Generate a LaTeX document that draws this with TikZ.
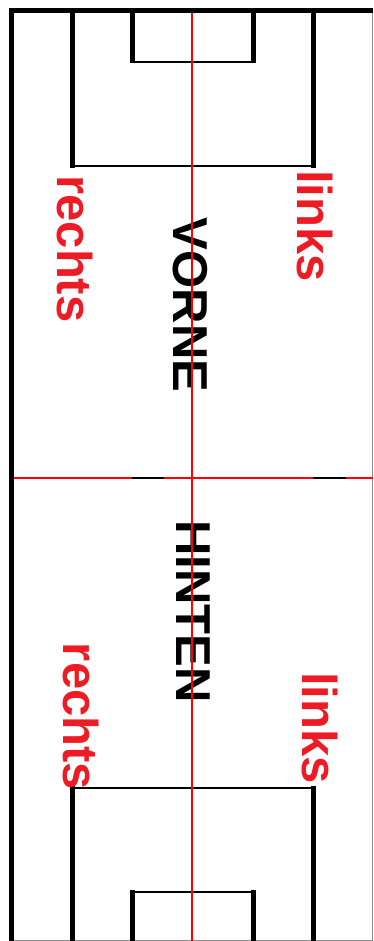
\documentclass[tikz,border=0pt]{standalone}
\usepackage{fontspec}
\setmainfont{Liberation Sans}
\definecolor{markred}{RGB}{237,28,36}
\tikzset{
  boldline/.style={line width=5pt,black},
  thinline/.style={line width=2pt,black},
  redline/.style={line width=2pt,red},
  frameline/.style={line width=0.8pt,black!45},
  sidelabel/.style={text=markred,font=\bfseries\fontsize{49}{49}\selectfont,rotate=-90,inner sep=0pt},
  halflabel/.style={text=black,font=\bfseries\fontsize{49}{49}\selectfont,rotate=-90,inner sep=0pt}
}
\begin{document}
\begin{tikzpicture}[x=1pt,y=-1pt]
  \useasboundingbox (0,0) rectangle (373,941);
  % frame
  \draw[frameline] (9,8) rectangle (372,940);
  \draw[boldline] (11,941) -- (11,11) -- (373,11);
  % upper penalty box and goal area
  \draw[boldline] (72,11) -- (72,168);
  \draw[boldline] (313.5,11) -- (313.5,168);
  \draw[thinline] (72,166) -- (313.5,166);
  \draw[boldline] (132,11) -- (132,63);
  \draw[boldline] (253,11) -- (253,63);
  \draw[thinline] (132,62) -- (253,62);
  % lower penalty box and goal area
  \draw[boldline] (72,786) -- (72,941);
  \draw[boldline] (313.5,786) -- (313.5,941);
  \draw[thinline] (72,788) -- (313.5,788);
  \draw[boldline] (132,890) -- (132,941);
  \draw[boldline] (253,890) -- (253,941);
  \draw[thinline] (132,891.5) -- (253,891.5);
  % labels
  \node[sidelabel] (rechtsV) at (75.5,249) {rechts};
  \node[sidelabel] (linksV) at (315.5,226) {links};
  \node[halflabel] (vorne) at (190,305) {VORNE};
  \node[halflabel] (hinten) at (193,611.5) {HINTEN};
  \node[sidelabel] (rechtsH) at (81.5,716.5) {rechts};
  \node[sidelabel] (linksH) at (320,728) {links};
  % halfway line and centre line
  \draw[redline] (14,478) -- (373,478);
  \draw[line width=2pt] (132,478) -- (164,478);
  \draw[line width=2pt] (313,478) -- (346,478);
  \draw[redline] (192,13) -- (192,941);
\end{tikzpicture}
\end{document}
